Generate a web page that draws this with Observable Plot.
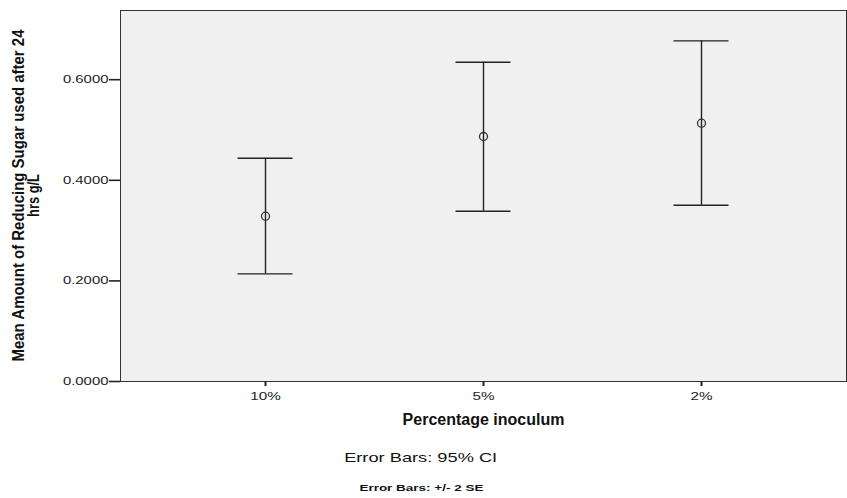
<!DOCTYPE html>
<html>
<head>
<meta charset="utf-8">
<script src="https://cdn.jsdelivr.net/npm/d3@7"></script>
<script src="https://cdn.jsdelivr.net/npm/@observablehq/plot@0.6"></script>
<style>
  html, body { margin: 0; padding: 0; background: #fff; }
  #wrap { width: 847px; font-family: "Liberation Sans", Arial, sans-serif; }
  .cap { position: absolute; left: 0; width: 842px; text-align: center; color: #111; font-family: "Liberation Sans", Arial, sans-serif; line-height: 1; }
  .cap span { display: inline-block; transform-origin: center center; white-space: nowrap; }
  .cap1 { top: 451px; font-size: 13.5px; }
  .cap2 { top: 484px; font-size: 9px; font-weight: bold; }
</style>
</head>
<body>
<div id="wrap"></div>
<script>
const categories = ["10%", "5%", "2%"];
const means = [0.3287, 0.4871, 0.5135];
const lower = [0.2140, 0.3386, 0.3505];
const upper = [0.4439, 0.6348, 0.6773];
const yTicks = [0, 0.2, 0.4, 0.6];
const xLabel = "Percentage inoculum";
const yLabelLines = ["Mean Amount of Reducing Sugar used after 24", "hrs g/L"];
const caption1 = "Error Bars: 95% CI";
const caption2 = "Error Bars: +/- 2 SE";

const data = categories.map((c, i) => ({cat: c, mean: means[i], lo: lower[i], hi: upper[i]}));

const chart = Plot.plot({
  width: 847,
  height: 435,
  marginTop: 10,
  marginLeft: 120,
  marginRight: 1,
  marginBottom: 54,
  style: {fontFamily: "'Liberation Sans', Arial, sans-serif", fontSize: "10.5px", color: "#222", background: "#fff"},
  x: {type: "band", domain: categories, padding: 0.33, label: null},
  y: {domain: [0, 0.7376], label: null},
  marks: [
    Plot.frame({fill: "#f0f0f0", stroke: "#333", strokeWidth: 1}),
    Plot.axisY({ticks: yTicks, tickFormat: d3.format(".4f"), tickSize: 11, tickPadding: 1, strokeWidth: 1.6, stroke: "#222", fontSize: 10.5}),
    Plot.axisX({tickSize: 5, tickPadding: 6, strokeWidth: 2, stroke: "#222", fontSize: 10.5}),
    Plot.ruleX(data, {x: "cat", y1: "lo", y2: "hi", stroke: "#222", strokeWidth: 1.4}),
    Plot.tickY(data, {x: "cat", y: "lo", stroke: "#222", strokeWidth: 1.4, inset: 45.5}),
    Plot.tickY(data, {x: "cat", y: "hi", stroke: "#222", strokeWidth: 1.4, inset: 45.5}),
    Plot.dot(data, {x: "cat", y: "mean", r: 4, stroke: "#333", strokeWidth: 1.3, fill: "none"}),
    Plot.text([xLabel], {frameAnchor: "bottom", dy: 43, text: d => d, fontSize: 16, fontWeight: "bold", fill: "#111", ariaLabel: "xlabel"})
  ]
});
document.getElementById("wrap").appendChild(chart);

function stretch(el, target) {
  el.setAttribute("textLength", target);
  el.setAttribute("lengthAdjust", "spacingAndGlyphs");
}
// wide (stretched) glyphs as in the reference export
chart.querySelectorAll('g[aria-label="y-axis tick label"] text').forEach(t => stretch(t, t.getComputedTextLength() * 1.42));
chart.querySelectorAll('g[aria-label="x-axis tick label"] text').forEach(t => stretch(t, t.getComputedTextLength() * 1.45));
chart.querySelectorAll('g[aria-label="xlabel"] text').forEach(t => stretch(t, 211));

// y-axis title (two lines, condensed)
const svg = d3.select(chart);
const yc = 195.5;
const yl = svg.append("g").attr("font-family", "'Liberation Sans', Arial, sans-serif").attr("font-weight", "bold").attr("fill", "#111").attr("text-anchor", "middle");
yl.append("text").attr("transform", `translate(24,${yc}) rotate(-90)`).attr("font-size", 16).text(yLabelLines[0]).call(s => stretch(s.node(), 332));
yl.append("text").attr("transform", `translate(38.5,${yc}) rotate(-90)`).attr("font-size", 16).text(yLabelLines[1]).call(s => stretch(s.node(), 43));

function addCap(cls, text, target) {
  const d = document.createElement("div"); d.className = "cap " + cls;
  const s = document.createElement("span"); s.textContent = text; d.appendChild(s);
  document.body.appendChild(d);
  const w = s.getBoundingClientRect().width;
  s.style.transform = `scaleX(${target / w})`;
}
addCap("cap1", caption1, 153);
addCap("cap2", caption2, 124);
</script>
</body>
</html>
